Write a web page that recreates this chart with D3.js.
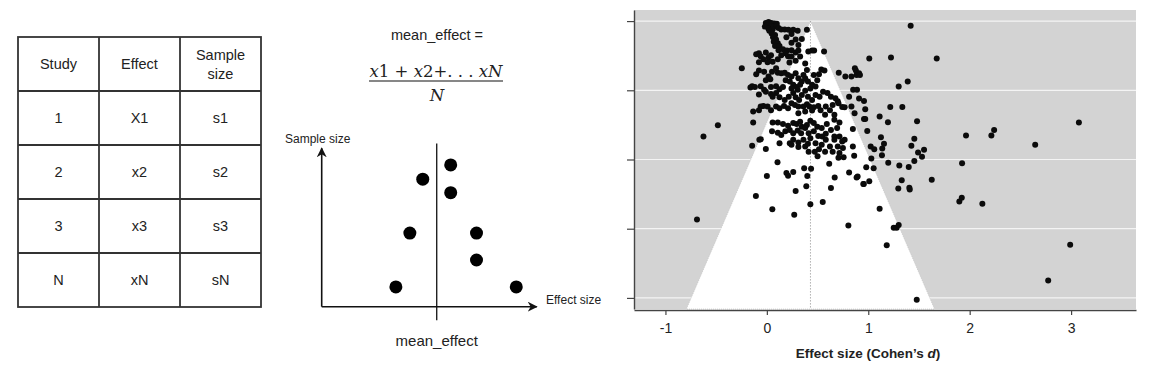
<!DOCTYPE html>
<html>
<head>
<meta charset="utf-8">
<script src="https://cdn.jsdelivr.net/npm/d3@7"></script>
<style>
  body { margin: 0; background: #fff; }
  text { font-family: "Liberation Sans", Arial, sans-serif; fill: #222; }
</style>
</head>
<body>
<svg id="chart" width="1157" height="375"></svg>
<script>
// ---- table ----
const tableHeader = ["Study", "Effect", "Sample size"];
const studyIds = ["1", "2", "3", "N"];
const studyEffects = ["X1", "x2", "x3", "xN"];
const studySizes = ["s1", "s2", "s3", "sN"];

// ---- schematic funnel ----
const schemEffect = [6.0, 4.7, 6.0, 4.1, 7.2, 7.2, 3.45, 9.05];
const schemSize = [8.95, 8.05, 7.2, 4.65, 4.65, 2.95, 1.25, 1.25];
const schemMean = 5.35;

// ---- real funnel plot: [Cohen's d, standard error] ----
const topCluster = [
  [-0.01, 0.004], [0.017, 0.002], [0.044, 0.004], [0.074, 0.005], [0.098, 0.006],
  [0.007, 0.009], [0.041, 0.011], [0.068, 0.012], [0.095, 0.011], [-0.02, 0.012],
  [0.014, 0.016], [0.057, 0.018], [0.024, 0.021], [0.115, 0.015], [0.142, 0.018],
  [0.176, 0.018], [0.213, 0.019], [0.26, 0.019], [0.304, 0.021], [0.047, 0.027],
  [0.081, 0.030], [0.061, 0.035], [0.091, 0.040], [0.068, 0.045], [0.108, 0.048],
  [0.081, 0.054], [0.125, 0.054], [0.243, 0.028], [0.284, 0.040], [0.243, 0.047],
  [0.311, 0.052], [0.193, 0.035]
];
const upperBand = [
  [-0.105, 0.072], [-0.078, 0.070], [-0.061, 0.076], [-0.01, 0.068], [0.017, 0.079],
  [0.041, 0.074], [-0.034, 0.083], [-0.078, 0.089], [0.007, 0.089], [0.057, 0.088],
  [0.115, 0.063], [0.159, 0.061], [0.199, 0.064], [0.243, 0.063], [0.182, 0.070],
  [0.209, 0.076], [0.243, 0.077], [0.284, 0.068], [0.311, 0.064], [0.142, 0.074],
  [0.284, 0.086], [0.328, 0.077], [0.223, 0.090], [0.108, 0.083], [0.378, 0.092],
  [-0.105, 0.115], [-0.078, 0.107], [-0.027, 0.110], [0.017, 0.120], [0.051, 0.110],
  [0.091, 0.102], [0.108, 0.112], [-0.01, 0.128], [0.034, 0.126], [0.142, 0.113],
  [0.176, 0.112], [0.209, 0.117], [0.243, 0.120], [0.284, 0.113], [0.311, 0.124],
  [0.345, 0.131], [0.186, 0.128], [0.226, 0.131], [0.26, 0.138], [0.294, 0.143],
  [0.328, 0.138], [0.378, 0.124], [0.405, 0.131], [0.446, 0.138], [0.429, 0.146],
  [0.48, 0.142], [0.395, 0.106], [0.361, 0.117], [0.463, 0.117], [0.497, 0.128],
  [-0.145, 0.141], [-0.162, 0.144], [-0.118, 0.143], [-0.061, 0.141], [-0.027, 0.149],
  [0.041, 0.143], [0.091, 0.141], [0.125, 0.148], [0.159, 0.143], [0.243, 0.146],
  [0.304, 0.149]
];
const middleBand = [
  [-0.078, 0.159], [-0.01, 0.153], [0.041, 0.158], [0.057, 0.164], [0.091, 0.156],
  [0.125, 0.165], [0.176, 0.171], [0.216, 0.164], [0.26, 0.156], [0.284, 0.165],
  [0.318, 0.171], [0.345, 0.160], [0.378, 0.151], [0.405, 0.164], [0.446, 0.171],
  [0.48, 0.160], [0.52, 0.164], [0.554, 0.153], [0.598, 0.156], [0.632, 0.164],
  [0.676, 0.167], [0.699, 0.174], [-0.061, 0.185], [-0.034, 0.184], [0.007, 0.185],
  [0.041, 0.193], [0.091, 0.185], [0.125, 0.189], [0.169, 0.184], [0.209, 0.189],
  [0.243, 0.178], [0.277, 0.182], [0.311, 0.185], [0.361, 0.185], [0.395, 0.180],
  [0.419, 0.185], [0.463, 0.187], [0.507, 0.184], [0.53, 0.193], [0.581, 0.185],
  [0.622, 0.193], [0.649, 0.182], [0.706, 0.178], [0.767, 0.187], [-0.135, 0.196],
  [-0.078, 0.193], [0.311, 0.200], [0.378, 0.196], [0.446, 0.194], [0.574, 0.203],
  [0.666, 0.203]
];
const lowerBand = [
  [0.057, 0.220], [0.108, 0.220], [0.159, 0.223], [0.209, 0.227], [0.26, 0.221],
  [0.294, 0.223], [0.328, 0.218], [0.345, 0.229], [0.395, 0.225], [0.429, 0.216],
  [0.463, 0.221], [0.497, 0.229], [0.541, 0.232], [0.591, 0.223], [0.632, 0.236],
  [0.666, 0.214], [0.693, 0.232], [0.716, 0.220], [0.051, 0.239], [0.108, 0.242],
  [0.142, 0.247], [0.182, 0.239], [0.226, 0.236], [0.26, 0.243], [0.304, 0.237],
  [0.338, 0.243], [0.378, 0.232], [0.412, 0.243], [0.463, 0.239], [0.507, 0.249],
  [0.547, 0.250], [0.581, 0.244], [0.666, 0.250], [0.716, 0.250], [0.767, 0.257],
  [0.125, 0.265], [0.226, 0.265], [0.26, 0.257], [0.311, 0.263], [0.361, 0.257],
  [0.378, 0.272], [0.405, 0.266], [0.429, 0.254], [0.48, 0.265], [0.541, 0.268],
  [0.581, 0.257], [0.622, 0.272], [0.666, 0.257], [0.699, 0.272], [0.743, 0.261],
  [0.75, 0.275], [0.716, 0.286], [0.649, 0.283], [0.574, 0.283], [0.514, 0.278],
  [0.412, 0.283], [0.473, 0.283], [0.311, 0.273], [0.243, 0.268]
];
const scattered = [
  [-0.689, 0.430], [-0.625, 0.250], [-0.483, 0.226], [-0.247, 0.102], [-0.135, 0.220],
  [-0.145, 0.270], [-0.108, 0.379], [-0.06, 0.256], [-0.074, 0.257], [-0.01, 0.277],
  [0.0, 0.336], [0.054, 0.408], [0.105, 0.306], [0.193, 0.329], [0.209, 0.335],
  [0.26, 0.327], [0.284, 0.368], [0.27, 0.420], [0.368, 0.319], [0.436, 0.320],
  [0.399, 0.336], [0.389, 0.358], [0.429, 0.397], [0.551, 0.392], [0.50, 0.293],
  [0.632, 0.362], [0.669, 0.339], [0.615, 0.309], [0.706, 0.296], [0.757, 0.295],
  [0.811, 0.328], [0.804, 0.443], [0.885, 0.339], [0.895, 0.337], [0.956, 0.353],
  [0.861, 0.292], [0.848, 0.272], [0.848, 0.234], [0.865, 0.200], [0.811, 0.164],
  [0.909, 0.168], [0.834, 0.185], [0.743, 0.186], [0.851, 0.149], [0.889, 0.149],
  [0.885, 0.117], [0.868, 0.102], [0.878, 0.107], [0.909, 0.113], [0.834, 0.120],
  [0.774, 0.120], [0.709, 0.112], [0.564, 0.066], [0.466, 0.064], [0.446, 0.064],
  [0.409, 0.066], [0.395, 0.019], [0.345, 0.039], [0.537, 0.105], [0.568, 0.107],
  [0.514, 0.115]
];
const rightTail = [
  [1.418, 0.010], [1.01, 0.081], [1.224, 0.079], [1.675, 0.081], [1.389, 0.131],
  [1.30, 0.142], [0.918, 0.117], [0.958, 0.173], [0.970, 0.191], [1.217, 0.186],
  [1.336, 0.186], [1.112, 0.207], [0.958, 0.212], [0.97, 0.212], [1.194, 0.219],
  [1.481, 0.217], [0.99, 0.238], [1.964, 0.248], [2.214, 0.248], [2.241, 0.236],
  [3.077, 0.220], [2.646, 0.268], [1.125, 0.252], [1.454, 0.255], [1.425, 0.270],
  [1.024, 0.272], [1.059, 0.278], [1.138, 0.276], [1.155, 0.266], [1.550, 0.279],
  [1.491, 0.285], [1.530, 0.294], [1.135, 0.291], [1.030, 0.298], [1.454, 0.303],
  [1.197, 0.307], [1.925, 0.308], [1.306, 0.313], [1.399, 0.316], [0.98, 0.317],
  [1.053, 0.319], [1.330, 0.345], [1.626, 0.344], [0.951, 0.353], [1.01, 0.347],
  [1.296, 0.363], [1.405, 0.361], [1.409, 0.365], [1.898, 0.391], [1.922, 0.383],
  [2.125, 0.396], [1.112, 0.407], [1.251, 0.448], [1.28, 0.448], [1.30, 0.442],
  [1.182, 0.486], [2.991, 0.485], [2.774, 0.562], [1.478, 0.604]
];

const pooledEffect = 0.43;
const xTicks = [-1, 0, 1, 2, 3];
const seTicks = [0, 0.15, 0.3, 0.45, 0.6];

const svg = d3.select("#chart");

// ---------- panel 1: the table ----------
const colX = d3.scaleOrdinal().domain([0, 1, 2, 3]).range([18, 99, 180, 261]);
const rowY = d3.scaleLinear().domain([0, 5]).range([37, 307]);
const table = svg.append("g");
const cellCenter = c => (colX(c) + colX(c + 1)) / 2;

table.append("rect")
  .attr("x", 18).attr("y", rowY(0))
  .attr("width", 243).attr("height", rowY(5) - rowY(0))
  .attr("fill", "none").attr("stroke", "#333").attr("stroke-width", 1.8);
[1, 2].forEach(c => table.append("line")
  .attr("x1", colX(c)).attr("x2", colX(c))
  .attr("y1", rowY(0)).attr("y2", rowY(5))
  .attr("stroke", "#333").attr("stroke-width", 1.8));
[1, 2, 3, 4].forEach(r => table.append("line")
  .attr("x1", 18).attr("x2", 261)
  .attr("y1", rowY(r)).attr("y2", rowY(r))
  .attr("stroke", "#333").attr("stroke-width", 1.8));

tableHeader.forEach((h, c) => {
  const t = table.append("text")
    .attr("x", cellCenter(c))
    .attr("text-anchor", "middle")
    .style("font-size", "14.5px");
  const words = c === 2 ? ["Sample", "size"] : [h];
  words.forEach((w, i) => t.append("tspan")
    .attr("x", cellCenter(c))
    .attr("y", words.length === 1 ? 69 : 60 + i * 19)
    .text(w));
});
const tableCols = [studyIds, studyEffects, studySizes];
tableCols.forEach((col, c) => col.forEach((v, r) => {
  table.append("text")
    .attr("x", cellCenter(c))
    .attr("y", (rowY(r + 1) + rowY(r + 2)) / 2 + 5)
    .attr("text-anchor", "middle")
    .style("font-size", "14.5px")
    .text(v);
}));

// ---------- panel 2: schematic ----------
const sx = d3.scaleLinear().domain([0, 10]).range([321.7, 536.7]);
const sy = d3.scaleLinear().domain([0, 10]).range([306.7, 148.3]);
const schem = svg.append("g");

schem.append("text").attr("x", 437).attr("y", 40)
  .attr("text-anchor", "middle").style("font-size", "14.5px")
  .text("mean_effect =");

const num = schem.append("text").attr("x", 436).attr("y", 77)
  .attr("text-anchor", "middle")
  .style("font-family", "'DejaVu Serif', 'Liberation Serif', serif")
  .style("font-size", "16.5px");
num.append("tspan").style("font-style", "italic").text("x");
num.append("tspan").text("1 + ");
num.append("tspan").style("font-style", "italic").text("x");
num.append("tspan").text("2+. . . ");
num.append("tspan").style("font-style", "italic").text("xN");
schem.append("line").attr("x1", 369).attr("x2", 503).attr("y1", 81).attr("y2", 81)
  .attr("stroke", "#111").attr("stroke-width", 1.1);
schem.append("text").attr("x", 437).attr("y", 101)
  .attr("text-anchor", "middle")
  .style("font-family", "'DejaVu Serif', 'Liberation Serif', serif")
  .style("font-style", "italic").style("font-size", "16.5px")
  .text("N");

const defs = svg.append("defs");
defs.append("marker").attr("id", "arrow")
  .attr("viewBox", "0 0 10 10").attr("refX", 9).attr("refY", 5)
  .attr("markerWidth", 10).attr("markerHeight", 10)
  .attr("markerUnits", "userSpaceOnUse").attr("orient", "auto")
  .append("path").attr("d", "M0,0 L10,5 L0,10 L3,5 Z").attr("fill", "#111");

schem.append("line")
  .attr("x1", sx(0)).attr("y1", sy(0)).attr("x2", sx(0)).attr("y2", sy(10))
  .attr("stroke", "#111").attr("stroke-width", 1.6).attr("marker-end", "url(#arrow)");
schem.append("line")
  .attr("x1", sx(0)).attr("y1", sy(0)).attr("x2", sx(10)).attr("y2", sy(0))
  .attr("stroke", "#111").attr("stroke-width", 1.6).attr("marker-end", "url(#arrow)");
schem.append("line")
  .attr("x1", sx(schemMean)).attr("x2", sx(schemMean))
  .attr("y1", sy(10.3)).attr("y2", sy(-0.85))
  .attr("stroke", "#111").attr("stroke-width", 1.3);

schem.selectAll("circle.s").data(schemEffect).enter().append("circle")
  .attr("cx", d => sx(d)).attr("cy", (d, i) => sy(schemSize[i]))
  .attr("r", 6.5).attr("fill", "#000");

schem.append("text").attr("x", 285).attr("y", 143).style("font-size", "12px").text("Sample size");
schem.append("text").attr("x", 546).attr("y", 304).style("font-size", "12px").text("Effect size");
schem.append("text").attr("x", sx(schemMean)).attr("y", 346)
  .attr("text-anchor", "middle").style("font-size", "15px").text("mean_effect");

// ---------- panel 3: funnel plot ----------
const x = d3.scaleLinear().domain([-1.31, 3.64]).range([634, 1136]);
const y = d3.scaleLinear().domain([-0.024, 0.624]).range([10, 309]);
const plot = svg.append("g");
const seMax = y.domain()[1];

plot.append("rect")
  .attr("x", x.range()[0]).attr("y", y.range()[0])
  .attr("width", x.range()[1] - x.range()[0]).attr("height", y.range()[1] - y.range()[0])
  .attr("fill", "#d3d3d3");

plot.selectAll("line.grid").data(seTicks).enter().append("line")
  .attr("x1", x.range()[0]).attr("x2", x.range()[1])
  .attr("y1", d => y(d)).attr("y2", d => y(d))
  .attr("stroke", "#f4f4f4").attr("stroke-width", 1.2);

const funnel = [
  [pooledEffect, 0],
  [pooledEffect + 1.96 * seMax, seMax],
  [pooledEffect - 1.96 * seMax, seMax]
];
plot.append("path")
  .attr("d", d3.line().x(d => x(d[0])).y(d => y(d[1]))(funnel) + "Z")
  .attr("fill", "#fff").attr("stroke", "#bdbdbd").attr("stroke-width", 0.6)
  .attr("stroke-dasharray", "1,1");

plot.append("line")
  .attr("x1", x(pooledEffect)).attr("x2", x(pooledEffect))
  .attr("y1", y(0)).attr("y2", y(seMax))
  .attr("stroke", "#9a9a9a").attr("stroke-width", 0.8).attr("stroke-dasharray", "1.5,1.5");

const allStudies = [].concat(topCluster, upperBand, middleBand, lowerBand, scattered, rightTail);
plot.selectAll("circle.pt").data(allStudies).enter().append("circle")
  .attr("cx", d => x(d[0])).attr("cy", d => y(d[1]))
  .attr("r", 3).attr("fill", "#0b0b0b");

const xAxis = plot.append("g").attr("transform", "translate(0,310)")
  .call(d3.axisBottom(x).tickValues(xTicks).tickSize(5).tickSizeOuter(0).tickPadding(8)
    .tickFormat(d3.format("d")));
xAxis.select(".domain").attr("stroke", "#444").attr("stroke-width", 1.4);
xAxis.selectAll(".tick line").attr("stroke", "#444").attr("stroke-width", 1.2);
xAxis.selectAll(".tick text").style("font-size", "14px").style("fill", "#222")
  .style("font-family", "'Liberation Sans', Arial, sans-serif")
  .text(d => d < 0 ? "-" + Math.abs(d) : d);

const yAxis = plot.append("g").attr("transform", "translate(634,0)")
  .call(d3.axisLeft(y).tickValues(seTicks).tickSize(7).tickSizeOuter(0).tickFormat(""));
yAxis.select(".domain").attr("stroke", "#444").attr("stroke-width", 1.4);
yAxis.selectAll(".tick line").attr("stroke", "#444").attr("stroke-width", 1.2);

const title = plot.append("text").attr("x", 868).attr("y", 358)
  .attr("text-anchor", "middle").style("font-size", "13.5px").style("font-weight", "bold");
title.append("tspan").text("Effect size (Cohen\u2019s ");
title.append("tspan").style("font-style", "italic").text("d");
title.append("tspan").text(")");
</script>
</body>
</html>
